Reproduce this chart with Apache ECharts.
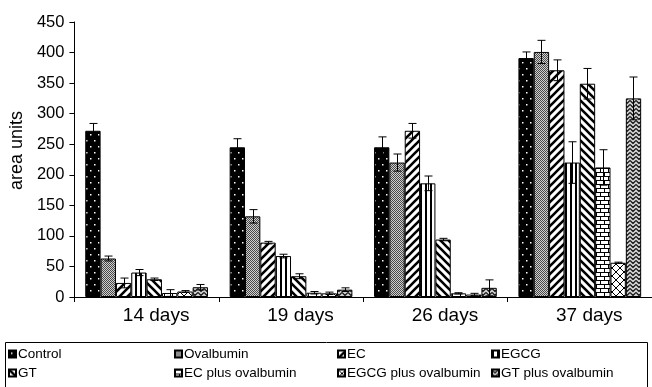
<!DOCTYPE html>
<html>
<head>
<meta charset="utf-8">
<script src="https://cdn.jsdelivr.net/npm/echarts@6/dist/echarts.min.js"></script>
<style>
  html, body { margin: 0; padding: 0; background: #fff; }
  #chart { width: 652px; height: 387px; }
</style>
</head>
<body>
<div id="chart"></div>
<script>
// Sampling points
const categories = ['14 days', '19 days', '26 days', '37 days'];

// Treatment groups
const seriesNames = ['Control', 'Ovalbumin', 'EC', 'EGCG', 'GT',
  'EC plus ovalbumin', 'EGCG plus ovalbumin', 'GT plus ovalbumin'];

// Mean values (area units) per group, one entry per sampling point
const control       = [272, 245, 245, 391];
const ovalbumin     = [63, 132, 220, 401];
const ec            = [23, 89, 272, 371];
const egcg          = [40, 67, 186, 220];
const gt            = [29, 34, 94, 349];
const ecOvalbumin   = [6.5, 7, 6, 212];
const egcgOvalbumin = [9, 6, 4, 56];
const gtOvalbumin   = [16, 12, 15, 325];

// Error bar half-heights
const controlErr       = [12, 14, 17, 10];
const ovalbuminErr     = [4, 11, 14, 19];
const ecErr            = [8, 2, 12, 17];
const egcgErr          = [5, 3, 12, 34];
const gtErr            = [2, 4, 2, 25];
const ecOvalbuminErr   = [5.5, 2, 1, 29];
const egcgOvalbuminErr = [1.5, 2, 2, 1];
const gtOvalbuminErr   = [4.5, 3, 13, 35];

// Y axis ticks
const yMin = 0, yMax = 450, yStep = 50;

const values = [control, ovalbumin, ec, egcg, gt, ecOvalbumin, egcgOvalbumin, gtOvalbumin];
const errors = [controlErr, ovalbuminErr, ecErr, egcgErr, gtErr, ecOvalbuminErr, egcgOvalbuminErr, gtOvalbuminErr];

// ---- fill patterns --------------------------------------------------------
function pattern(w, h, draw) {
  const c = document.createElement('canvas');
  c.width = w; c.height = h;
  const ctx = c.getContext('2d');
  draw(ctx, w, h);
  return { image: c, repeat: 'repeat' };
}
function px(ctx, x, y, col) { ctx.fillStyle = col; ctx.fillRect(x, y, 1, 1); }

const fills = [
  // dotted black
  pattern(8, 12, (ctx, w, h) => {
    ctx.fillStyle = '#000'; ctx.fillRect(0, 0, w, h);
    ctx.fillStyle = '#fff';
    ctx.fillRect(2, 2, 1.5, 1.5);
    ctx.fillRect(6, 8, 1.5, 1.5);
  }),
  // fine grey check
  pattern(2, 2, (ctx) => {
    px(ctx, 0, 0, '#4a4a4a'); px(ctx, 1, 1, '#4a4a4a');
    px(ctx, 1, 0, '#cfcfcf'); px(ctx, 0, 1, '#cfcfcf');
  }),
  // wide forward diagonal
  pattern(8, 8, (ctx, w, h) => {
    ctx.fillStyle = '#fff'; ctx.fillRect(0, 0, w, h);
    ctx.strokeStyle = '#000'; ctx.lineWidth = 2.6;
    ctx.beginPath();
    ctx.moveTo(-2, 2); ctx.lineTo(2, -2);
    ctx.moveTo(0, 8); ctx.lineTo(8, 0);
    ctx.moveTo(6, 10); ctx.lineTo(10, 6);
    ctx.stroke();
  }),
  // vertical stripes
  pattern(5, 4, (ctx, w, h) => {
    ctx.fillStyle = '#fff'; ctx.fillRect(0, 0, w, h);
    ctx.fillStyle = '#000'; ctx.fillRect(0, 0, 2, h);
  }),
  // wide backward diagonal
  pattern(8, 8, (ctx, w, h) => {
    ctx.fillStyle = '#fff'; ctx.fillRect(0, 0, w, h);
    ctx.strokeStyle = '#000'; ctx.lineWidth = 2.6;
    ctx.beginPath();
    ctx.moveTo(-2, 6); ctx.lineTo(2, 10);
    ctx.moveTo(0, 0); ctx.lineTo(8, 8);
    ctx.moveTo(6, -2); ctx.lineTo(10, 2);
    ctx.stroke();
  }),
  // brick
  pattern(8, 8, (ctx, w, h) => {
    ctx.fillStyle = '#fff'; ctx.fillRect(0, 0, w, h);
    ctx.fillStyle = '#000';
    ctx.fillRect(0, 0, w, 1);
    ctx.fillRect(0, 4, w, 1);
    ctx.fillRect(0, 0, 1, 4);
    ctx.fillRect(4, 4, 1, 4);
  }),
  // diamond lattice
  pattern(8, 8, (ctx, w, h) => {
    ctx.fillStyle = '#fff'; ctx.fillRect(0, 0, w, h);
    ctx.strokeStyle = '#000'; ctx.lineWidth = 1;
    ctx.beginPath();
    ctx.moveTo(0, 0); ctx.lineTo(8, 8);
    ctx.moveTo(0, 8); ctx.lineTo(8, 0);
    ctx.stroke();
  }),
  // zigzag on grey
  pattern(6, 4, (ctx, w, h) => {
    ctx.fillStyle = '#d0d0d0'; ctx.fillRect(0, 0, w, h);
    ctx.strokeStyle = '#111'; ctx.lineWidth = 1.2;
    ctx.beginPath();
    ctx.moveTo(0, 0.5); ctx.lineTo(3, 3.5); ctx.lineTo(6, 0.5);
    ctx.stroke();
  })
];

// ---- layout ---------------------------------------------------------------
const FONT = 'Liberation Sans, Arial, Helvetica, sans-serif';
const CATEGORY_GAP = 0.15;
const legendCols = [8, 174, 337, 491];
const legendRows = [347, 366];

const barSeries = seriesNames.map((name, i) => ({
  name: name,
  type: 'bar',
  data: values[i],
  barGap: '0%',
  barCategoryGap: (CATEGORY_GAP * 100) + '%',
  itemStyle: { color: fills[i], borderColor: '#000', borderWidth: 1 },
  emphasis: { disabled: true },
  animation: false
}));

const errorSeries = seriesNames.map((name, i) => ({
  name: 'err-' + name,
  type: 'custom',
  z: 5,
  animation: false,
  data: values[i].map((v, k) => [k, v, errors[i][k]]),
  renderItem: function (params, api) {
    const k = api.value(0), v = api.value(1), e = api.value(2);
    const band = api.size([1, 0])[0];
    const groupW = band * (1 - CATEGORY_GAP);
    const barW = groupW / seriesNames.length;
    const x = Math.round(api.coord([k, 0])[0] - groupW / 2 + barW * (i + 0.5)) + 0.5;
    const yTop = api.coord([k, v + e])[1];
    const yBot = api.coord([k, Math.max(v - e, 0)])[1];
    const cap = 4;
    const st = { stroke: '#000', lineWidth: 1 };
    return {
      type: 'group',
      children: [
        { type: 'line', shape: { x1: x, y1: yTop, x2: x, y2: yBot }, style: st },
        { type: 'line', shape: { x1: x - cap, y1: yTop, x2: x + cap, y2: yTop }, style: st },
        { type: 'line', shape: { x1: x - cap, y1: yBot, x2: x + cap, y2: yBot }, style: st }
      ]
    };
  }
}));

const legends = seriesNames.map((name, i) => ({
  data: [name],
  left: legendCols[i % 4],
  top: legendRows[Math.floor(i / 4)],
  padding: 0,
  itemWidth: 7,
  itemHeight: 7,
  itemGap: 0,
  selectedMode: false,
  icon: 'rect',
  textStyle: { fontFamily: FONT, fontSize: 13.5, color: '#000', padding: [0, 0, 0, -3] }
}));

const chart = echarts.init(document.getElementById('chart'), null, { renderer: 'canvas' });
chart.setOption({
  backgroundColor: '#fff',
  animation: false,
  grid: { left: 72, right: -7, top: 22, bottom: 90 },
  xAxis: {
    type: 'category',
    data: categories,
    axisLine: { lineStyle: { color: '#000', width: 1 } },
    axisTick: { show: true, alignWithLabel: false, length: 5, inside: false, lineStyle: { color: '#000' } },
    axisLabel: { fontFamily: FONT, fontSize: 19, color: '#000', margin: 9, padding: [0, 0, 0, 19] }
  },
  yAxis: {
    type: 'value',
    min: yMin, max: yMax, interval: yStep,
    name: 'area units',
    nameLocation: 'middle',
    nameGap: 44,
    nameTextStyle: { fontFamily: FONT, fontSize: 18, color: '#000', padding: [0, 0, 0, 18] },
    axisLine: { show: true, lineStyle: { color: '#000', width: 1 } },
    axisTick: { show: true, length: 5, lineStyle: { color: '#000' } },
    axisLabel: { fontFamily: FONT, fontSize: 16.5, color: '#000', margin: 10 },
    splitLine: { show: false }
  },
  legend: legends,
  graphic: [{
    type: 'rect',
    shape: { x: 5.5, y: 342.5, width: 642, height: 60 },
    style: { fill: 'none', stroke: '#000', lineWidth: 1 },
    z: -1
  }],
  series: barSeries.concat(errorSeries)
});
</script>
</body>
</html>
